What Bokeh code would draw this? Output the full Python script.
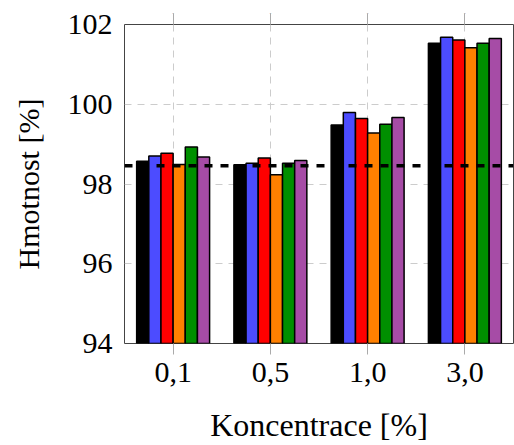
from bokeh.plotting import figure
from bokeh.models import FactorRange, Range1d, Span, CategoricalAxis, FixedTicker
from bokeh.transform import dodge
from bokeh.embed import file_html
from bokeh.resources import INLINE

categories = ["0,1", "0,5", "1,0", "3,0"]
series_black = [98.57, 98.48, 99.48, 101.53]
series_blue = [98.70, 98.52, 99.79, 101.68]
series_red = [98.77, 98.65, 99.64, 101.61]
series_orange = [98.49, 98.23, 99.28, 101.42]
series_green = [98.93, 98.52, 99.50, 101.53]
series_purple = [98.68, 98.59, 99.67, 101.65]
reference_value = [98.46]
y_ticks = [94, 96, 98, 100, 102]

colors = ["#000000", "#4c4cff", "#ff0000", "#ff8000", "#008f00", "#a64ca6"]
all_series = [series_black, series_blue, series_red, series_orange, series_green, series_purple]

FONT = "Liberation Serif"

p = figure(x_range=FactorRange(*categories), y_range=Range1d(94, 102),
           width=514, height=445, output_backend="svg", toolbar_location=None,
           min_border_left=124, min_border_right=1, min_border_top=24, min_border_bottom=101)

p.outline_line_color = "#444444"
p.outline_line_width = 1

bw = 0.125
offsets = [-0.3125, -0.1875, -0.0625, 0.0625, 0.1875, 0.3125]
for vals, col, off in zip(all_series, colors, offsets):
    src = dict(x=categories, top=vals)
    p.vbar(x=dodge("x", off, range=p.x_range), top="top", bottom=94, width=bw,
           source=src, fill_color=col, line_color="black", line_width=1.5)

p.add_layout(Span(location=reference_value[0], dimension="width", line_color="black",
                  line_width=3.5, line_dash="8 8"))

# grids
p.xgrid.grid_line_color = "#cccccc"
p.xgrid.grid_line_dash = "7 6"
p.ygrid.grid_line_color = "#cccccc"
p.ygrid.grid_line_dash = "7 6"
p.ygrid.ticker = FixedTicker(ticks=y_ticks)

# x axis
xa = p.xaxis[0]
xa.axis_label = "Koncentrace [%]"
xa.axis_line_color = None
xa.major_tick_in = 0
xa.major_tick_out = 11
xa.major_tick_line_color = "#aaaaaa"
xa.major_label_text_font = FONT
xa.major_label_text_font_size = "30px"
xa.major_label_text_color = "black"
xa.major_label_standoff = 8
xa.axis_label_text_font = FONT
xa.axis_label_text_font_size = "32px"
xa.axis_label_text_font_style = "normal"
xa.axis_label_text_color = "black"
xa.axis_label_standoff = 22

top_axis = CategoricalAxis(major_label_overrides={c: "" for c in categories},
                           major_label_text_font_size="1px", major_label_standoff=0,
                           major_tick_in=0, major_tick_out=11, major_tick_line_color="#aaaaaa",
                           axis_line_color=None)
p.add_layout(top_axis, "above")

# y axis
ya = p.yaxis[0]
ya.ticker = FixedTicker(ticks=y_ticks)
ya.axis_label = "Hmotnost [%]"
ya.axis_line_color = None
ya.major_tick_in = 0
ya.major_tick_out = 0
ya.minor_tick_in = 0
ya.minor_tick_out = 0
ya.major_label_standoff = 12
ya.major_label_text_font = FONT
ya.major_label_text_font_size = "30px"
ya.major_label_text_color = "black"
ya.axis_label_text_font = FONT
ya.axis_label_text_font_size = "30px"
ya.axis_label_text_font_style = "normal"
ya.axis_label_text_color = "black"
ya.axis_label_standoff = 20

open("out.html", "w").write(file_html(p, INLINE))
